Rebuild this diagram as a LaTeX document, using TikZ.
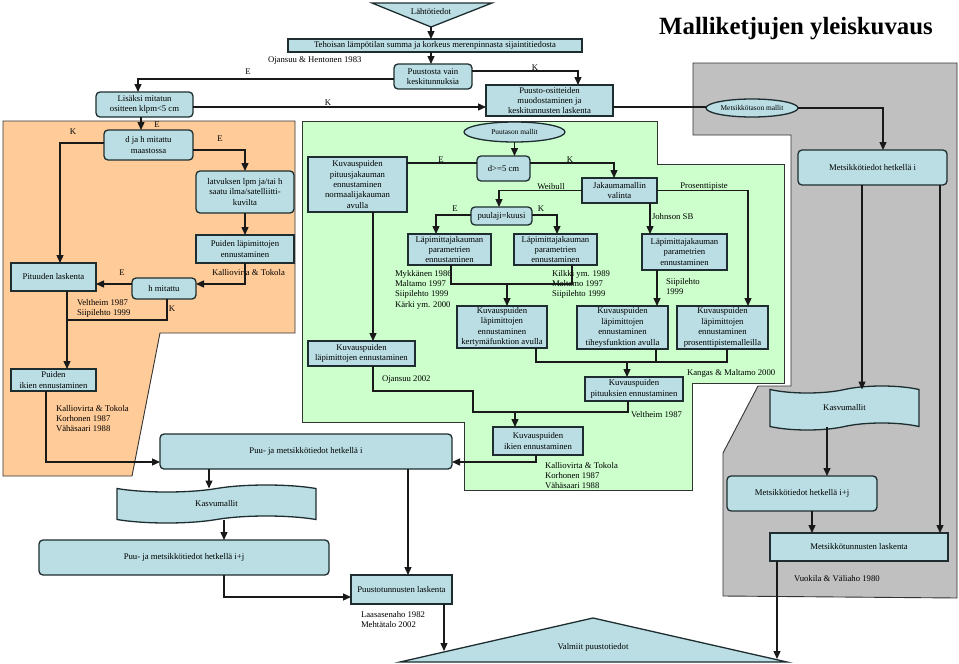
\documentclass[tikz,border=0pt]{standalone}
\usepackage{fontspec}
\setmainfont{Liberation Serif}
\usetikzlibrary{shapes.geometric,shapes.symbols,arrows.meta}
\definecolor{nodefill}{RGB}{186,222,228}
\definecolor{nodeline}{RGB}{30,46,48}
\definecolor{orangebg}{RGB}{255,204,153}
\definecolor{greenbg}{RGB}{204,255,204}
\definecolor{graybg}{RGB}{192,192,192}
\newcommand\fsn{\fontsize{8.7}{10.4}\selectfont}
\newcommand\fse{\fontsize{7.4}{9}\selectfont}
\begin{document}
\begin{tikzpicture}[x=1pt,y=-1pt,
  every node/.style={inner sep=0pt, outer sep=0pt},
  sz/.style 2 args={minimum width=#1pt, minimum height=#2pt},
  box/.style={draw=nodeline, fill=nodefill, line width=1.3pt, align=center, font=\fsn},
  rbox/.style={box, rounded corners=4pt},
  ell/.style={box, ellipse, font=\fse},
  tapebox/.style={box, tape, tape bend top=in and out, tape bend bottom=in and out, tape bend height=7pt},
  lbl/.style={font=\fsn, anchor=west},
  clbl/.style={font=\fsn},
  mlbl/.style={font=\fsn, anchor=north west, align=left},
  conn/.style={line width=1.3pt, draw=black!90},
  arr/.style={conn, -{Triangle[length=8pt,width=7pt]}},
  region/.style={draw=black!80, line width=0.9pt},
]
\useasboundingbox (0,0) rectangle (959,664);
\fill[white] (0,0) rectangle (959,664);
% regions
\path[region, fill=orangebg] (3,121) -- (295,121) -- (295,333) -- (160,333) -- (132,476) -- (3,476) -- cycle;
\path[region, fill=greenbg] (302,121) -- (657,121) -- (657,164) -- (784,164) -- (784,383) -- (692,383) -- (692,490) -- (464,490) -- (464,422) -- (302,422) -- cycle;
\path[region, fill=graybg] (693,63) -- (957,63) -- (957,598) -- (723,596) -- (723,453) -- (758,386) -- (791,386) -- (791,135) -- (693,135) -- cycle;

% title
\node[font=\fontsize{24.8}{28}\selectfont\bfseries] (title) at (796,29) {Malliketjujen yleiskuvaus};

% top
\path[draw=nodeline, fill=nodefill, line width=1.3pt] (372,3) -- (492,3) -- (431,27) -- cycle;
\node[clbl] (lah) at (431,12) {Lähtötiedot};
\coordinate (lahtip) at (431,27);
\node[box, sz={294}{13}] (teh) at (435,45.5) {Tehoisan lämpötilan summa ja korkeus merenpinnasta sijaintitiedosta};
\node[rbox, sz={78}{25}] (puust) at (433,76.5) {Puustosta vain\\keskitunnuksia};
\node[box, sz={127}{31}] (pos) at (549.5,100.5) {Puusto-ositteiden\\muodostaminen ja\\keskitunnusten laskenta};
\node[rbox, sz={97}{25}] (lis) at (144.5,104.5) {Lisäksi mitatun\\ositteen klpm<5 cm};
\node[ell, sz={92}{18}] (mtm) at (752,108) {Metsikkötason mallit};
\node[rbox, sz={149}{35}] (mti) at (872.5,167.5) {Metsikkötiedot hetkellä i};

% orange
\node[rbox, sz={89}{30}] (djh) at (148.5,145) {d ja h mitattu\\maastossa};
\node[rbox, sz={98}{42}] (lat) at (245,192) {latvuksen lpm ja/tai h\\saatu ilma/satelliitti-\\kuvilta};
\node[box, sz={98}{28}] (pl) at (245,249) {Puiden läpimittojen\\ennustaminen};
\node[rbox, sz={64}{21}] (hm) at (164,288.5) {h mitattu};
\node[box, sz={85}{28}] (pit) at (53.5,277) {Pituuden laskenta};
\node[box, sz={85}{22}] (pik) at (53.5,380) {Puiden\\ikien ennustaminen};

% lower left
\node[rbox, sz={292}{35}] (pmi) at (306,451.5) {Puu- ja metsikkötiedot hetkellä i};
\node[tapebox, sz={199}{38}] (kas1) at (216.5,504) {Kasvumallit};
\node[rbox, sz={290}{35}] (pmij) at (184,557.5) {Puu- ja metsikkötiedot hetkellä i+j};
\node[box, sz={101}{29}] (ptl) at (401.5,589.5) {Puustotunnusten laskenta};

% green
\node[ell, sz={101}{20}] (ptm) at (514.5,132) {Puutason mallit};
\node[rbox, sz={53}{25}] (d5) at (503.5,168.5) {d>=5 cm};
\node[box, sz={99}{55}] (kpj) at (357.5,184.5) {Kuvauspuiden\\pituusjakauman\\ennustaminen\\normaalijakauman\\avulla};
\node[box, sz={75}{25}] (jak) at (619.5,190.5) {Jakaumamallin\\valinta};
\node[rbox, sz={61}{18}] (pk) at (501.5,216) {puulaji=kuusi};
\node[box, sz={83}{31}] (l1) at (449.5,249.5) {Läpimittajakauman\\parametrien\\ennustaminen};
\node[box, sz={83}{31}] (l2) at (555.5,249.5) {Läpimittajakauman\\parametrien\\ennustaminen};
\node[box, sz={85}{36}] (l3) at (684.5,252) {Läpimittajakauman\\parametrien\\ennustaminen};
\node[box, sz={90}{42}] (kk) at (502,327) {Kuvauspuiden\\läpimittojen\\ennustaminen\\kertymäfunktion avulla};
\node[box, sz={91}{43}] (kt) at (622.5,327.5) {Kuvauspuiden\\läpimittojen\\ennustaminen\\tiheysfunktion avulla};
\node[box, sz={91}{43}] (kpp) at (722.5,327.5) {Kuvauspuiden\\läpimittojen\\ennustaminen\\prosenttipistemalleilla};
\node[box, sz={98}{24}] (kpi) at (634,389) {Kuvauspuiden\\pituuksien ennustaminen};
\node[box, sz={107}{25}] (kle) at (361.5,353.5) {Kuvauspuiden\\läpimittojen ennustaminen};
\node[box, sz={90}{28}] (kik) at (538,441) {Kuvauspuiden\\ikien ennustaminen};

% gray
\node[tapebox, sz={149}{44}] (kas2) at (844.5,408) {Kasvumallit};
\node[rbox, sz={150}{35}] (mtij) at (802,493.5) {Metsikkötiedot hetkellä i+j};
\node[box, sz={178}{28}] (mtl) at (859,547) {Metsikkötunnusten laskenta};

% final
\path[draw=nodeline, fill=nodefill, line width=1.3pt] (400,662) -- (593,618) -- (787,662) -- cycle;
\node[clbl] (val) at (593,647) {Valmiit puustotiedot};
\coordinate (v1) at (444,651);
\coordinate (v2) at (777,659);

% plain labels
\node[lbl] (oj1) at (268,61) {Ojansuu \& Hentonen 1983};
\node[clbl] (e1) at (248,72) {E};
\node[clbl] (k1) at (535,68) {K};
\node[clbl] (k2) at (328,103) {K};
\node[clbl] (e2) at (157,125) {E};
\node[clbl] (k3) at (73,132) {K};
\node[clbl] (e3) at (220,139) {E};
\node[lbl] (kt1) at (212,273) {Kalliovirta \& Tokola};
\node[clbl] (e4) at (122,273) {E};
\node[clbl] (k4) at (172,309) {K};
\node[mlbl] (vs1) at (77,299) {Veltheim 1987\\Siipilehto 1999};
\node[mlbl] (kvt1) at (56,405) {Kalliovirta \& Tokola\\Korhonen 1987\\Vähäsaari 1988};
\node[clbl] (e5) at (441,160) {E};
\node[clbl] (k5) at (570,160) {K};
\node[clbl] (wb) at (551,187) {Weibull};
\node[clbl] (pp) at (704,187) {Prosenttipiste};
\node[clbl] (e6) at (455,209) {E};
\node[clbl] (k6) at (541,209) {K};
\node[lbl] (jsb) at (652,217) {Johnson SB};
\node[mlbl] (myk) at (395,270) {Mykkänen 1986\\Maltamo 1997\\Siipilehto 1999\\Kärki ym. 2000};
\node[mlbl] (kil) at (552,270) {Kilkki ym. 1989\\Maltamo 1997\\Siipilehto 1999};
\node[mlbl] (sii) at (666,278) {Siipilehto\\1999};
\node[lbl] (kan) at (687,373) {Kangas \& Maltamo 2000};
\node[lbl] (vel) at (631,415) {Veltheim 1987};
\node[lbl] (oj2) at (382,380) {Ojansuu 2002};
\node[mlbl] (kvt2) at (545,462) {Kalliovirta \& Tokola\\Korhonen 1987\\Vähäsaari 1988};
\node[mlbl] (laa) at (361,611) {Laasasenaho 1982\\Mehtätalo 2002};
\node[lbl] (vuo) at (794,579) {Vuokila \& Väliaho 1980};

% connectors
\draw[arr] (lahtip) -- (teh.north -| lahtip);
\draw[arr] (teh.south -| 431,0) -- (puust.north -| 431,0);
\draw[arr] (puust.west |- 0,79) -| (lis.north -| 138,0);
\draw[arr] (puust.east |- 0,71) -| (pos.north -| 578,0);
\draw[arr] (lis.east |- 0,107) -- (pos.west |- 0,107);
\draw[conn] (pos.east |- 0,107) -- (mtm.west |- 0,107);
\draw[arr] (mtm.east) -| (mti.north -| 883,0);
\draw[arr] (lis.south -| 141,0) -- (djh.north -| 141,0);
\draw[arr] (djh.west |- 0,143) -| (pit.north -| 60,0);
\draw[arr] (djh.east |- 0,150) -| (lat.north);
\draw[arr] (lat.south) -- (pl.north);
\draw[arr] (pl.south) |- (hm.east |- 0,284);
\draw[arr] (hm.west |- 0,284) -- (pit.east |- 0,284);
\coordinate (j1) at (67,320);
\draw[conn] (hm.south -| 167,0) |- (j1);
\draw[arr] (pit.south -| 67,0) -- (pik.north -| 67,0);
\draw[arr] (pik.south -| 46,0) |- (pmi.west |- 0,462);
\draw[arr] (ptm.south) -- (d5.north -| ptm.south);
\draw[conn] (d5.west |- 0,163) -- (kpj.east |- 0,163);
\draw[arr] (kpj.south -| 373,0) -- (kle.north -| 373,0);
\draw[arr] (d5.east |- 0,163) -| (jak.north -| 614,0);
\draw[arr] (jak.west) -| (pk.north -| 499,0);
\draw[arr] (pk.west |- 0,215) -| (l1.north -| 436,0);
\draw[arr] (pk.east |- 0,215) -| (l2.north -| 557,0);
\draw[arr] (jak.south -| 650,0) -- (l3.north -| 650,0);
\draw[arr] (jak.east) -| (kpp.north -| 748,0);
\coordinate (m1a) at (451,284);
\coordinate (m1b) at (572,284);
\coordinate (m1) at (507,284);
\draw[conn] (l1.south -| m1a) -- (m1a) -- (m1b) -- (l2.south -| m1b);
\draw[arr] (m1) -- (kk.north -| m1);
\draw[arr] (l3.south -| 657,0) -- (kt.north -| 657,0);
\coordinate (m2a) at (536,362);
\coordinate (m2b) at (727,362);
\coordinate (m2c) at (656,362);
\coordinate (m2) at (627,362);
\draw[conn] (kk.south -| m2a) -- (m2a) -- (m2b) -- (kpp.south -| m2b);
\draw[conn] (kt.south -| m2c) -- (m2c);
\draw[arr] (m2) -- (kpi.north -| m2);
\coordinate (m3a) at (373,391);
\coordinate (m3b) at (473,391);
\coordinate (m3c) at (473,412);
\coordinate (m3d) at (628,412);
\coordinate (m3) at (515,412);
\draw[conn] (kle.south -| m3a) -- (m3a) -- (m3b) -- (m3c) -- (m3d) -- (kpi.south -| m3d);
\draw[arr] (m3) -- (kik.north -| m3);
\draw[arr] (kik.south -| 536,0) |- (pmi.east |- 0,462);
\draw[arr] (pmi.south -| 209,0) -- (kas1.north -| 209,0);
\draw[arr] (pmi.south -| 408,0) -- (ptl.north -| 408,0);
\draw[arr] (kas1.south -| 224,0) -- (pmij.north -| 224,0);
\draw[arr] (pmij.south -| 224,0) |- (ptl.west |- 0,597);
\draw[arr] (ptl.south -| v1) -- (v1);
\draw[arr] (mti.south -| 862,0) -- (kas2.north -| 862,0);
\draw[arr] (mti.south -| 940,0) -- (mtl.north -| 940,0);
\draw[arr] (kas2.south -| 827,0) -- (mtij.north -| 827,0);
\draw[arr] (mtij.south -| 812,0) -- (mtl.north -| 812,0);
\draw[arr] (mtl.south -| v2) -- (v2);
\end{tikzpicture}
\end{document}
